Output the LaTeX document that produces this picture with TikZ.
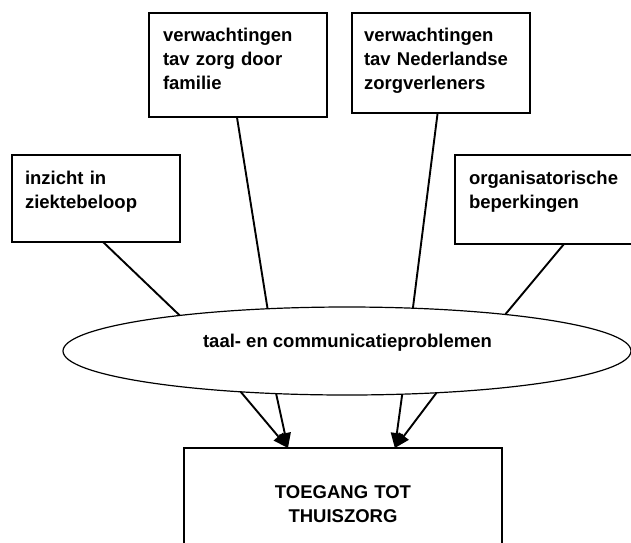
\documentclass[tikz,border=0pt]{standalone}
\usepackage{fontspec}
\setmainfont{Liberation Sans}
\usetikzlibrary{calc,arrows.meta,shapes.geometric}
\begin{document}
\begin{tikzpicture}[x=1pt,y=-1pt,
  boxst/.style={draw,line width=1.3pt,inner sep=0pt,outer sep=0pt,anchor=north west,fill=white},
  txt/.style={inner sep=0pt,outer sep=0pt,anchor=base west,text width=170pt,align=left,
    font=\fontsize{18.5}{24}\selectfont\bfseries},
  conn/.style={line width=1.9pt},
  arr/.style={line width=1.9pt,-{Triangle[length=15pt,width=12pt]}}]
\useasboundingbox (0,0) rectangle (631,542);
% boxes
\node[boxst,minimum width=168pt,minimum height=87pt] (lbox) at (12,155) {};
\node[boxst,minimum width=178pt,minimum height=104pt] (fbox) at (149,13) {};
\node[boxst,minimum width=178pt,minimum height=100pt] (nbox) at (352,13) {};
\node[boxst,minimum width=218pt,minimum height=89pt] (obox) at (455,155) {};
\node[boxst,minimum width=318pt,minimum height=130pt] (tbox) at (184,448) {};
% ellipse
\node[ellipse,draw,line width=1.2pt,fill=white,inner sep=0pt,outer sep=0pt,
  minimum width=568pt,minimum height=88pt] (ell) at (347,351) {};
% texts
\node[txt] (ltxt) at (25,184) {inzicht in\\ziektebeloop};
\node[txt] (ftxt) at (163,41) {verwachtingen\\tav zorg door\\familie};
\node[txt] (ntxt) at (364,41) {verwachtingen\\tav Nederlandse\\zorgverleners};
\node[txt] (otxt) at (469,184) {organisatorische\\beperkingen};
\node[txt,anchor=base,align=center,text width=250pt] (ttxt) at (343,498) {TOEGANG TOT\\THUISZORG};
\node[inner sep=0pt,anchor=base,font=\fontsize{18.5}{24}\selectfont\bfseries] (etxt) at (347.5,347) {taal- en communicatieproblemen};
% connectors
\draw[conn] ($(lbox.south west)!0.542!(lbox.south east)$) -- (ell.168.6);
\draw[conn] ($(fbox.south west)!0.494!(fbox.south east)$) -- (ell.152.9);
\draw[conn] ($(nbox.south west)!0.481!(nbox.south east)$) -- (ell.33.5);
\draw[conn] (obox.south) -- (ell.13.3);
\draw[arr] (ell.201.5) -- ($(tbox.north west)!0.327!(tbox.north east)$);
\draw[arr] (ell.211.9) -- ($(tbox.north west)!0.327!(tbox.north east)$);
\draw[arr] (ell.322) -- ($(tbox.north west)!0.663!(tbox.north east)$);
\draw[arr] (ell.335.2) -- ($(tbox.north west)!0.663!(tbox.north east)$);
\end{tikzpicture}
\end{document}
